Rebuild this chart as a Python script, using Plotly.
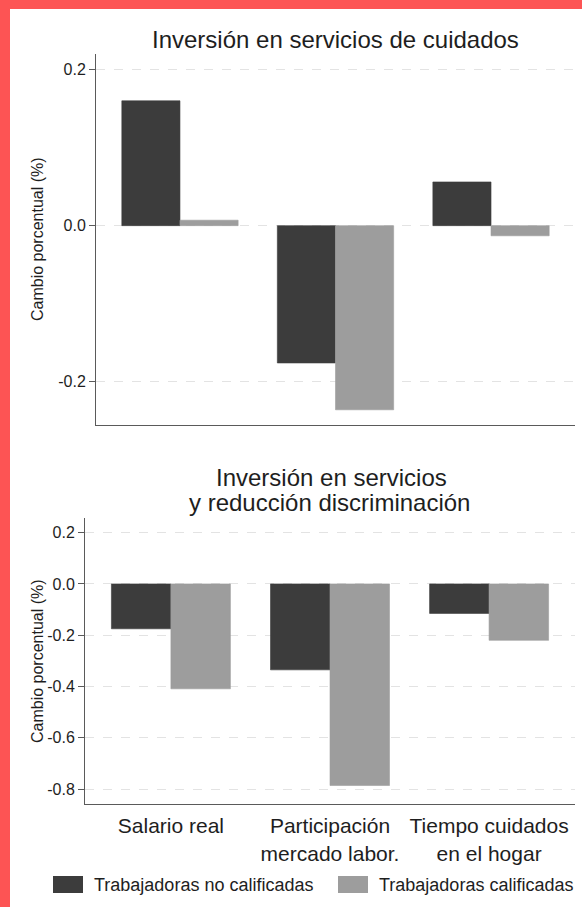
import plotly.graph_objects as go

# ---------------- data ----------------
categories = ["Salario real", "Participación<br>mercado labor.", "Tiempo cuidados<br>en el hogar"]
series_names = ["Trabajadoras no calificadas", "Trabajadoras calificadas"]

top_no_calif = [0.160, -0.176, 0.056]
top_calif = [0.007, -0.236, -0.013]

bottom_no_calif = [-0.175, -0.335, -0.115]
bottom_calif = [-0.409, -0.786, -0.220]

top_title = "Inversión en servicios de cuidados"
bottom_title_lines = ["Inversión en servicios", "y reducción discriminación"]
y_title = "Cambio porcentual (%)"

top_ticks = [-0.2, 0.0, 0.2]
bottom_ticks = [0.2, 0.0, -0.2, -0.4, -0.6, -0.8]

# ---------------- style ----------------
W, H = 582, 907
DARK = "#3c3c3c"
LIGHT = "#9d9d9d"
AXIS = "#5a5a5a"
GRID = "#e3e3e3"
TXT = "#1e1e1e"
FONT = "Liberation Sans, Arial, sans-serif"
RED = "#fd5454"


def px_x(p):
    return p / W


def px_y(p):
    return 1 - p / H


fig = go.Figure()

for vals, name, color in [(top_no_calif, series_names[0], DARK), (top_calif, series_names[1], LIGHT)]:
    fig.add_trace(go.Bar(x=categories, y=vals, name=name, marker=dict(color=color, line=dict(color=color, width=0.6)),
                         xaxis="x", yaxis="y", showlegend=False))
for vals, name, color in [(bottom_no_calif, series_names[0], DARK), (bottom_calif, series_names[1], LIGHT)]:
    fig.add_trace(go.Bar(x=categories, y=vals, name=name, marker=dict(color=color, line=dict(color=color, width=0.6)),
                         xaxis="x2", yaxis="y2", showlegend=False))

common_y = dict(showline=True, linecolor=AXIS, linewidth=1, ticks="outside", ticklen=6, tickcolor=AXIS,
                tickfont=dict(family=FONT, size=16, color=TXT), showgrid=True, gridcolor=GRID, griddash="dash",
                gridwidth=1, zeroline=False)
common_x = dict(showline=True, linecolor=AXIS, linewidth=1, showgrid=False, zeroline=False,
                range=[-0.54, 2.54])

fig.update_layout(
    width=W, height=H,
    margin=dict(l=0, r=0, t=0, b=0),
    paper_bgcolor="white", plot_bgcolor="white",
    barmode="group", bargap=0.252, bargroupgap=0,
    font=dict(family=FONT, color=TXT),
    showlegend=False,
    xaxis=dict(domain=[px_x(96), px_x(575)], anchor="y", showticklabels=False, ticks="", **common_x),
    yaxis=dict(domain=[px_y(425), px_y(54)], anchor="x", range=[-0.2555, 0.22],
               tickvals=top_ticks, ticktext=[f"{v:.1f}" for v in top_ticks], **common_y),
    xaxis2=dict(domain=[px_x(85), px_x(575)], anchor="y2", ticks="outside", ticklen=3,
                tickcolor="rgba(0,0,0,0)", tickfont=dict(family=FONT, size=21, color=TXT), **common_x),
    yaxis2=dict(domain=[px_y(804), px_y(518)], anchor="x2", range=[-0.858, 0.257],
                tickvals=bottom_ticks, ticktext=[f"{v:.1f}" for v in bottom_ticks], **common_y),
)

annotations = [
    dict(text=top_title, x=px_x(335.5), y=px_y(39), xref="paper", yref="paper", showarrow=False,
         xanchor="center", yanchor="middle", font=dict(family=FONT, size=24, color=TXT)),
    dict(text=bottom_title_lines[0], x=px_x(331), y=px_y(478), xref="paper", yref="paper", showarrow=False,
         xanchor="center", yanchor="middle", font=dict(family=FONT, size=24, color=TXT)),
    dict(text=bottom_title_lines[1], x=px_x(329), y=px_y(503), xref="paper", yref="paper", showarrow=False,
         xanchor="center", yanchor="middle", font=dict(family=FONT, size=24, color=TXT)),
    dict(text=y_title, x=px_x(37), y=px_y(239), xref="paper", yref="paper", showarrow=False, textangle=-90,
         xanchor="center", yanchor="middle", font=dict(family=FONT, size=16, color=TXT)),
    dict(text=y_title, x=px_x(37), y=px_y(661), xref="paper", yref="paper", showarrow=False, textangle=-90,
         xanchor="center", yanchor="middle", font=dict(family=FONT, size=16, color=TXT)),
    dict(text=series_names[0], x=px_x(92), y=px_y(885), xref="paper", yref="paper", showarrow=False,
         xanchor="left", yanchor="middle", font=dict(family=FONT, size=18, color=TXT)),
    dict(text=series_names[1], x=px_x(377), y=px_y(885), xref="paper", yref="paper", showarrow=False,
         xanchor="left", yanchor="middle", font=dict(family=FONT, size=18, color=TXT)),
]

shapes = [
    # red frame (left and top)
    dict(type="rect", xref="paper", yref="paper", x0=0, x1=px_x(10), y0=0, y1=1, fillcolor=RED, line_width=0, layer="above"),
    dict(type="rect", xref="paper", yref="paper", x0=0, x1=1, y0=px_y(9), y1=1, fillcolor=RED, line_width=0, layer="above"),
    # legend swatches
    dict(type="rect", xref="paper", yref="paper", x0=px_x(53), x1=px_x(83), y0=px_y(893), y1=px_y(876),
         fillcolor=DARK, line_width=0),
    dict(type="rect", xref="paper", yref="paper", x0=px_x(338), x1=px_x(368), y0=px_y(893), y1=px_y(876),
         fillcolor=LIGHT, line_width=0),
]

fig.update_layout(annotations=annotations, shapes=shapes)

fig.write_html("out.html", config={"displayModeBar": False},
               post_script="document.body.style.margin='0';document.body.style.overflow='hidden';")
